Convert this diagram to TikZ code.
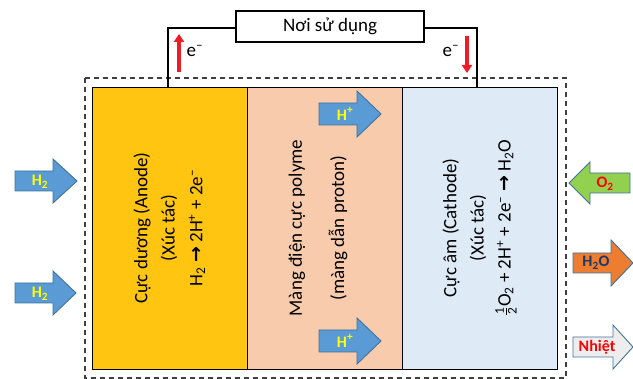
\documentclass[tikz,border=0pt]{standalone}
\usepackage{amsmath}
\usepackage{fontspec}
\setmainfont{Carlito}
\newfontfamily\symfont{DejaVu Sans}
\usetikzlibrary{arrows.meta}
\definecolor{anodec}{HTML}{FFC510}
\definecolor{memc}{HTML}{F8CBAD}
\definecolor{cathc}{HTML}{DEEBF7}
\definecolor{ablue}{HTML}{5B9BD5}
\definecolor{aedge}{HTML}{41719C}
\definecolor{agreen}{HTML}{92D050}
\definecolor{aorange}{HTML}{ED7D31}
\definecolor{agray}{HTML}{EDEDED}
\definecolor{navy}{HTML}{1F3864}
\definecolor{ered}{HTML}{EE1C25}
\definecolor{ayellow}{HTML}{FFFF00}
\newcommand{\RArr}[7]{\filldraw[#1] (#2,#5-#6) -- (#3,#5-#6) -- (#3,#5-#7) -- (#4,#5) -- (#3,#5+#7) -- (#3,#5+#6) -- (#2,#5+#6) -- cycle;}
\newcommand{\Arr}{{\symfont\bfseries →}}
\begin{document}
\begin{tikzpicture}[x=1pt,y=-1pt,
  cell/.style={draw=black, line width=1.3pt, inner sep=0pt, minimum width=155pt, minimum height=282pt, anchor=north west},
  wire/.style={draw=black, line width=2pt},
  lbl/.style={font=\fontsize{19}{23}\selectfont, inner sep=0pt},
  vlbl/.style={lbl, rotate=90},
  alabel/.style={font=\bfseries\fontsize{16}{18}\selectfont, inner sep=0pt},
  bluearr/.style={fill=ablue, draw=aedge, line width=0.9pt},
  earrow/.style={draw=ered, line width=4pt, -{Triangle[length=8pt,width=10pt]}},
  dashbox/.style={draw=black!75, line width=1.2pt, dash pattern=on 5pt off 4pt}
]
\useasboundingbox (0,0) rectangle (633,379);
% dashed enclosure
\draw[dashbox] (85,78) rectangle (566,378);
% cells
\node[cell, fill=anodec] (anode) at (92,87) {};
\node[cell, fill=memc] (mem) at (247,87) {};
\node[cell, fill=cathc] (cath) at (402,87) {};
% load
\node[draw=black, line width=1.3pt, minimum width=188pt, minimum height=31pt, inner sep=0pt, lbl] (load) at (330,26.5) {Nơi sử dụng};
% wires
\coordinate (aw) at (168,87);
\coordinate (ac) at (168,28);
\coordinate (cw) at (477,88);
\coordinate (cc) at (477,28);
\draw[wire] (aw) -- (ac) -- (ac -| load.west);
\draw[wire] (load.east |- cc) -- (cc) -- (cw);
% electron arrows
\coordinate (e1a) at (179,72);
\coordinate (e1b) at (179,34);
\coordinate (e2a) at (467,36);
\coordinate (e2b) at (467,73);
\draw[earrow] (e1a) -- (e1b);
\draw[earrow] (e2a) -- (e2b);
\node[lbl] (el1) at (195,51) {e\textsuperscript{\textendash}};
\node[lbl] (el2) at (451,51) {e\textsuperscript{\textendash}};
% anode text
\node[vlbl] (at1) at (142,228) {Cực dương (Anode)};
\node[vlbl] (at2) at (169,228) {(Xúc tác)};
\node[vlbl] (at3) at (197,228) {H\textsubscript{2} \Arr{} 2H\textsuperscript{+} + 2e\textsuperscript{\textendash}};
% membrane text
\node[vlbl] (mt1) at (297,228) {Màng điện cực polyme};
\node[vlbl] (mt2) at (338,228) {(màng dẫn proton)};
% cathode text
\node[vlbl] (ct1) at (451,228) {Cực âm (Cathode)};
\node[vlbl] (ct2) at (478,228) {(Xúc tác)};
\node[vlbl] (ct3) at (506,228) {$\frac{\text{1}}{\text{2}}$O\textsubscript{2} + 2H\textsuperscript{+} + 2e\textsuperscript{\textendash} \Arr{} H\textsubscript{2}O};
% H2 inlet arrows
\RArr{bluearr}{15}{53}{77}{181}{10}{22}
\node[alabel, text=ayellow] (h2a) at (40,182) {H\textsubscript{2}};
\RArr{bluearr}{15}{53}{76}{293}{10}{22}
\node[alabel, text=ayellow] (h2b) at (40,294) {H\textsubscript{2}};
% H+ arrows
\RArr{bluearr}{319}{357}{381}{114}{11}{23}
\node[alabel, text=ayellow] (hp1) at (345,114) {H\textsuperscript{+}};
\RArr{bluearr}{319}{357}{381}{341}{11}{23}
\node[alabel, text=ayellow] (hp2) at (345,341) {H\textsuperscript{+}};
% O2 arrow (pointing left)
\RArr{fill=agreen, draw=aedge, line width=0.9pt}{630}{590}{569}{183}{10}{21}
\node[alabel, text=red] (o2) at (605,184) {O\textsubscript{2}};
% H2O arrow
\RArr{fill=aorange, draw=aedge, line width=0.9pt}{573}{611}{633}{263}{10}{23}
\node[alabel, text=navy] (h2o) at (596,263) {H\textsubscript{2}O};
% heat arrow
\RArr{fill=agray, draw=aedge, line width=0.9pt}{573}{613}{633}{347}{10}{22}
\node[alabel, text=red] (heat) at (597,347) {Nhiệt};
\end{tikzpicture}
\end{document}
